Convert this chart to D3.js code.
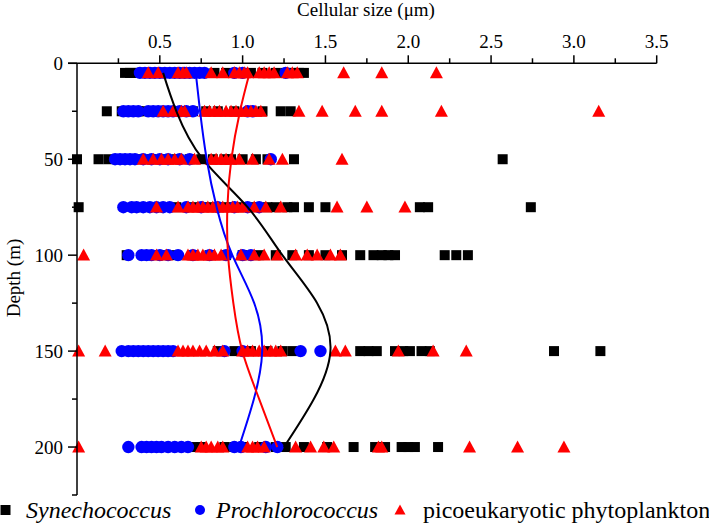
<!DOCTYPE html>
<html><head><meta charset="utf-8">
<script src="https://cdn.jsdelivr.net/npm/d3@7/dist/d3.min.js"></script>
</head>
<body style="margin:0"><svg id="chart" width="709" height="525"></svg>
<script>
// ---- data ----
const depths = [5, 25, 50, 75, 100, 150, 200];

const synechococcus = [
  [0.29,0.32,0.35,0.38,0.45,0.52,0.6,0.68,0.75,0.83,0.9,0.98,1.05,1.12,1.2,1.26,1.3,1.34,1.37],
  [0.18,0.27,0.3,0.33,0.37,0.41,0.45,0.5,0.55,0.6,0.65,0.7,0.78,0.85,0.95,1.05,1.12,1.23,1.29],
  [0.0,0.13,0.19,0.25,0.3,0.38,0.45,0.52,0.6,0.68,0.75,0.82,0.89,0.93,1.0,1.08,1.15,1.31,2.57],
  [0.01,0.35,0.4,0.5,0.6,0.7,0.8,0.9,1.0,1.08,1.15,1.2,1.27,1.31,1.4,1.5,2.07,2.12,2.74],
  [0.3,0.4,0.5,0.6,0.7,0.8,0.9,1.0,1.1,1.2,1.3,1.4,1.5,1.6,1.71,1.79,1.84,1.88,1.92,2.22,2.29,2.36],
  [0.85,0.95,1.05,1.15,1.24,1.3,1.71,1.76,1.81,1.92,1.97,2.01,2.08,2.13,2.88,3.16],
  [0.7,0.75,0.89,0.95,1.0,1.1,1.2,1.26,1.37,1.51,1.67,1.8,1.86,1.96,2.0,2.04,2.18]
];

const prochlorococcus = [
  [0.38,0.41,0.44,0.47,0.5,0.53,0.56,0.59,0.62,0.65,0.68,0.71,0.74,0.77,0.95,1.0,1.26],
  [0.28,0.31,0.34,0.37,0.43,0.46,0.49,0.52,0.55,0.58,0.62,0.66,0.7,1.03,1.06],
  [0.23,0.26,0.29,0.32,0.35,0.4,0.45,0.5,0.55,0.62,0.68,1.17],
  [0.28,0.33,0.36,0.4,0.44,0.48,0.52,0.56,0.66,0.75,0.85,0.95,1.03,1.1],
  [0.31,0.39,0.42,0.45,0.5,0.55,0.61,0.7,0.8,0.9,1.0,1.05],
  [0.27,0.31,0.34,0.37,0.4,0.43,0.46,0.49,0.52,0.55,0.58,0.89,1.0,1.35,1.47],
  [0.31,0.39,0.42,0.45,0.48,0.51,0.55,0.59,0.63,0.67,0.95,0.99,1.14,1.21]
];

const picoeukaryotes = [
  [0.43,0.49,0.61,0.64,0.66,0.81,0.88,0.95,0.98,1.01,1.03,1.1,1.13,1.16,1.19,1.27,1.3,1.33,1.61,1.84,2.17],
  [0.52,0.58,0.63,0.65,0.77,0.8,0.83,0.86,0.9,0.93,0.96,0.99,1.02,1.05,1.08,1.11,1.34,1.48,1.68,1.84,2.2,3.15],
  [0.4,0.46,0.51,0.55,0.59,0.63,0.71,0.81,0.84,0.87,0.9,0.93,0.98,1.06,1.16,1.24,1.6],
  [0.48,0.61,0.67,0.7,0.73,0.76,0.79,0.82,0.85,0.88,0.91,0.94,0.97,1.0,1.07,1.14,1.23,1.57,1.75,1.98],
  [0.04,0.48,0.54,0.67,0.7,0.73,0.76,0.8,0.83,0.87,0.99,1.07,1.13,1.21,1.32,1.39,1.45,1.53,1.59],
  [0.01,0.17,0.61,0.64,0.67,0.7,0.74,0.78,0.83,0.88,1.0,1.03,1.06,1.1,1.13,1.17,1.2,1.23,1.56,1.62,1.94,2.15,2.35],
  [0.01,0.75,0.78,0.81,0.85,0.88,1.03,1.06,1.09,1.13,1.32,1.41,1.49,1.55,1.82,1.84,2.37,2.66,2.94]
];

// fitted trend curves (size vs depth)
const fitDepths = [5, 25, 50, 75, 100, 125, 150, 175, 200];
const synFit  = [0.52, 0.60, 0.76, 1.03, 1.24, 1.45, 1.53, 1.43, 1.25];
const proFit  = [0.717, 0.743, 0.783, 0.843, 0.938, 1.07, 1.118, 1.068, 0.978];
const picoFit = [1.042, 0.984, 0.932, 0.908, 0.912, 0.944, 0.998, 1.10, 1.209];

const xTicks = [0.5, 1.0, 1.5, 2.0, 2.5, 3.0, 3.5];
const xMinor = [0.25, 0.75, 1.25, 1.75, 2.25, 2.75, 3.25];
const yTicks = [0, 50, 100, 150, 200];
const yMinor = [25, 75, 125, 175, 225];

const legendLabels = ["Synechococcus", "Prochlorococcus", "picoeukaryotic phytoplankton"];

// ---- chart ----
const svg = d3.select("#chart");
const x = d3.scaleLinear().domain([0, 3.5]).range([77, 656.7]);
const y = d3.scaleLinear().domain([0, 225]).range([63.3, 495]);

const BLUE = "#0000ff", RED = "#ff0000", BLACK = "#000000";

function flat(arr) {
  const out = [];
  arr.forEach((vals, i) => vals.forEach(v => out.push({d: depths[i], v})));
  return out;
}

const g = svg.append("g");

g.selectAll("rect.syn").data(flat(synechococcus)).join("rect")
  .attr("class","syn")
  .attr("x", d => x(d.v) - 5).attr("y", d => y(d.d) - 5)
  .attr("width", 10).attr("height", 10).attr("fill", BLACK);

g.selectAll("circle.pro").data(flat(prochlorococcus)).join("circle")
  .attr("class","pro")
  .attr("cx", d => x(d.v)).attr("cy", d => y(d.d)).attr("r", 6.2).attr("fill", BLUE);

const tri = (cx, cy, w, h) => `M${cx},${cy - h*0.55}L${cx + w/2},${cy + h*0.45}L${cx - w/2},${cy + h*0.45}Z`;
g.selectAll("path.pico").data(flat(picoeukaryotes)).join("path")
  .attr("class","pico")
  .attr("d", d => tri(x(d.v), y(d.d), 13, 12)).attr("fill", RED);

const line = d3.line().x(d => x(d[0])).y(d => y(d[1])).curve(d3.curveNatural);
[[synFit, BLACK], [proFit, BLUE], [picoFit, RED]].forEach(([fit, col]) => {
  g.append("path")
    .attr("d", line(fit.map((v, i) => [v, fitDepths[i]])))
    .attr("fill", "none").attr("stroke", col).attr("stroke-width", 2);
});

const ax = svg.append("g").attr("stroke", "#000").attr("stroke-width", 1.5);
ax.append("line").attr("x1", x(0) - 9).attr("x2", x(3.5)).attr("y1", y(0)).attr("y2", y(0));
xTicks.forEach(t => ax.append("line").attr("x1", x(t)).attr("x2", x(t)).attr("y1", y(0)).attr("y2", y(0) - 8));
xMinor.forEach(t => ax.append("line").attr("x1", x(t)).attr("x2", x(t)).attr("y1", y(0)).attr("y2", y(0) - 5));
ax.append("line").attr("x1", x(0)).attr("x2", x(0)).attr("y1", y(0)).attr("y2", y(225));
yTicks.forEach(t => ax.append("line").attr("x1", x(0)).attr("x2", x(0) - 9).attr("y1", y(t)).attr("y2", y(t)));
yMinor.forEach(t => ax.append("line").attr("x1", x(0)).attr("x2", x(0) - 5).attr("y1", y(t)).attr("y2", y(t)));

function addText(s, size, italic) {
  const t = svg.append("text").attr("font-size", size).text(s);
  t.node().style.setProperty("font-family", '"Times New Roman"', "important");
  if (italic) t.node().style.setProperty("font-style", "italic", "important");
  return t;
}

xTicks.forEach(t => addText(t.toFixed(1), 19).attr("x", x(t)).attr("y", 48).attr("text-anchor", "middle"));
yTicks.forEach(t => addText(String(t), 19).attr("x", 63).attr("y", y(t) + 6.5).attr("text-anchor", "end"));

addText("Cellular size (μm)", 19).attr("x", 366).attr("y", 16).attr("text-anchor", "middle");
addText("Depth (m)", 19).attr("transform", "translate(20,278) rotate(-90)").attr("text-anchor", "middle");

const ly = 510;
svg.append("rect").attr("x", 0.5).attr("y", ly - 5).attr("width", 10).attr("height", 10).attr("fill", BLACK);
addText(legendLabels[0], 24, true).attr("x", 26).attr("y", 518);
svg.append("circle").attr("cx", 200).attr("cy", ly).attr("r", 5).attr("fill", BLUE);
addText(legendLabels[1], 24, true).attr("x", 216).attr("y", 518);
svg.append("path").attr("d", tri(400, ly, 11, 10)).attr("fill", RED);
addText(legendLabels[2], 24).attr("x", 423).attr("y", 518);
</script></body></html>
